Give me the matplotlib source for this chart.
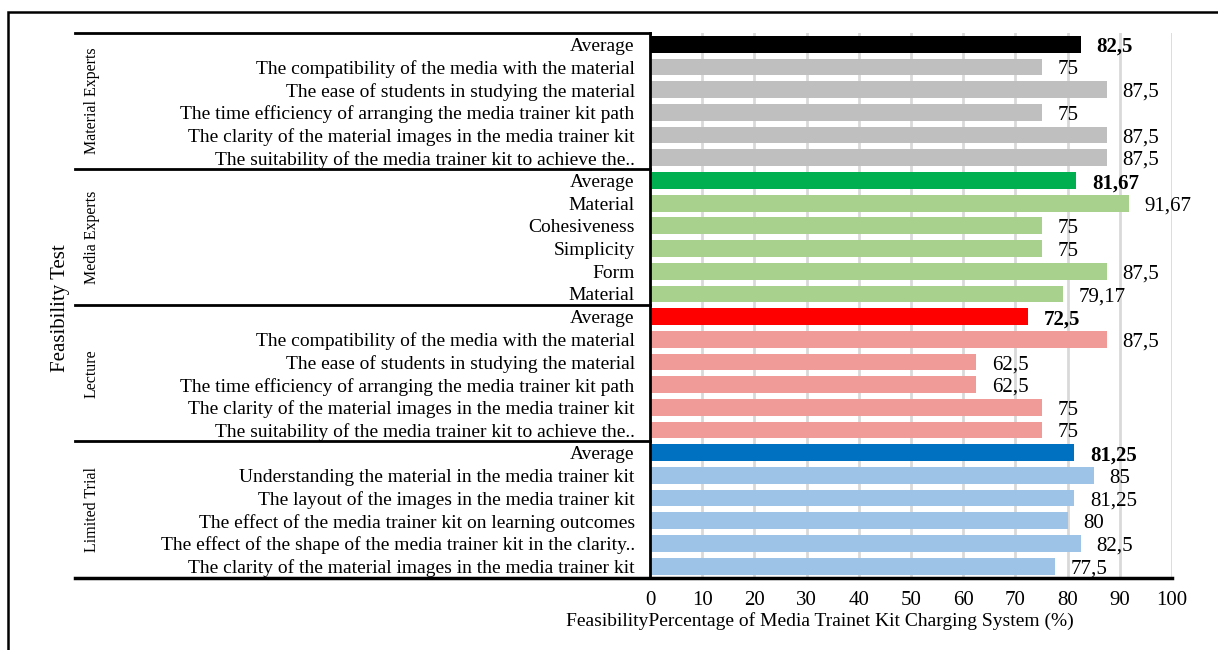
import matplotlib
matplotlib.use("Agg")
import matplotlib.pyplot as plt
import matplotlib.transforms as mtransforms
from matplotlib.patches import Rectangle
from matplotlib.lines import Line2D

plt.rcParams['font.family'] = ['Liberation Serif', 'DejaVu Serif']

# data, top to bottom
groups = ["Material Experts", "Media Experts", "Lecture", "Limited Trial"]

material_labels = ["Average",
                   "The compatibility of the media with the material",
                   "The ease of students in studying the material",
                   "The time efficiency of arranging the media trainer kit path",
                   "The clarity of the material images in the media trainer kit",
                   "The suitability of the media trainer kit to achieve the.."]
material_values = [82.5, 75, 87.5, 75, 87.5, 87.5]

media_labels = ["Average", "Material", "Cohesiveness", "Simplicity", "Form", "Material"]
media_values = [81.67, 91.67, 75, 75, 87.5, 79.17]

lecture_labels = ["Average",
                  "The compatibility of the media with the material",
                  "The ease of students in studying the material",
                  "The time efficiency of arranging the media trainer kit path",
                  "The clarity of the material images in the media trainer kit",
                  "The suitability of the media trainer kit to achieve the.."]
lecture_values = [72.5, 87.5, 62.5, 62.5, 75, 75]

trial_labels = ["Average",
                "Understanding the material in the media trainer kit",
                "The layout of the images in the media trainer kit",
                "The effect of the media trainer kit on learning outcomes",
                "The effect of the shape of the media trainer kit in the clarity..",
                "The clarity of the material images in the media trainer kit"]
trial_values = [81.25, 85, 81.25, 80, 82.5, 77.5]

avg_colors = ["#000000", "#00b050", "#ff0000", "#0070c0"]
item_colors = ["#bfbfbf", "#a9d18e", "#f19b99", "#9dc3e6"]

xticks = [0, 10, 20, 30, 40, 50, 60, 70, 80, 90, 100]

all_labels = [material_labels, media_labels, lecture_labels, trial_labels]
all_values = [material_values, media_values, lecture_values, trial_values]

fig = plt.figure(figsize=(12.18, 6.5), dpi=100)
W, H = 1218.0, 650.0
ax = fig.add_axes([650 / W, 1 - 577.5 / H, (1172 - 650) / W, (577.5 - 33) / H])

labels, values, colors, bold = [], [], [], []
for g in range(len(groups)):
    for i, (lab, v) in enumerate(zip(all_labels[g], all_values[g])):
        labels.append(lab)
        values.append(v)
        colors.append(avg_colors[g] if i == 0 else item_colors[g])
        bold.append(i == 0)

ypos = list(range(len(values)))
ax.barh(ypos, values, height=0.74, color=colors, zorder=3)

for y, v, b in zip(ypos, values, bold):
    txt = ("%g" % v).replace(".", ",")
    ax.text(v + 3, y + 0.12, txt, va="center", ha="left", fontsize=15,
            fontweight="bold" if b else "normal", zorder=4)

ax.set_ylim(len(values) - 0.5, -0.5)
ax.set_xlim(0, 100)
ax.set_yticks(ypos)
ax.set_yticklabels(labels, fontsize=14)
ax.tick_params(axis="y", length=0, pad=11)
ax.set_xticks(xticks)
ax.set_xticklabels([str(t) for t in xticks], fontsize=15)
ax.tick_params(axis="x", length=0, pad=10)
ax.grid(axis="x", color="#d9d9d9", linewidth=2, zorder=0)
for s in ["top", "right", "bottom"]:
    ax.spines[s].set_visible(False)
ax.spines["left"].set_linewidth(2)
ax.spines["left"].set_zorder(5)

# group separators from the left margin
trans = mtransforms.blended_transform_factory(fig.transFigure, ax.transData)
x0 = 75 / W
for b in [-0.5, 5.5, 11.5, 17.5]:
    fig.add_artist(Line2D([x0, 650 / W], [b, b], transform=trans,
                          color="black", linewidth=2))
fig.add_artist(Line2D([x0, 1172 / W], [23.5, 23.5], transform=trans,
                      color="black", linewidth=2.5))

for g, name in enumerate(groups):
    fig.text(92 / W, g * 6 + 2.5, name, rotation=90, ha="center", va="center",
             fontsize=11.5, transform=trans)

fig.text(60 / W, 1 - 308 / H, "Feasibility Test", rotation=90, ha="center",
         va="center", fontsize=15)
fig.text(820 / W, 1 - 621 / H,
         "FeasibilityPercentage of Media Trainet Kit Charging System (%)",
         ha="center", va="center", fontsize=14)

# outer frame (partly cut off)
fig.add_artist(Rectangle((8 / W, -0.2), 1.5, 1.2 - 12 / H, fill=False,
                         edgecolor="black", linewidth=1.8,
                         transform=fig.transFigure))

fig.savefig("out.png", dpi=100)
